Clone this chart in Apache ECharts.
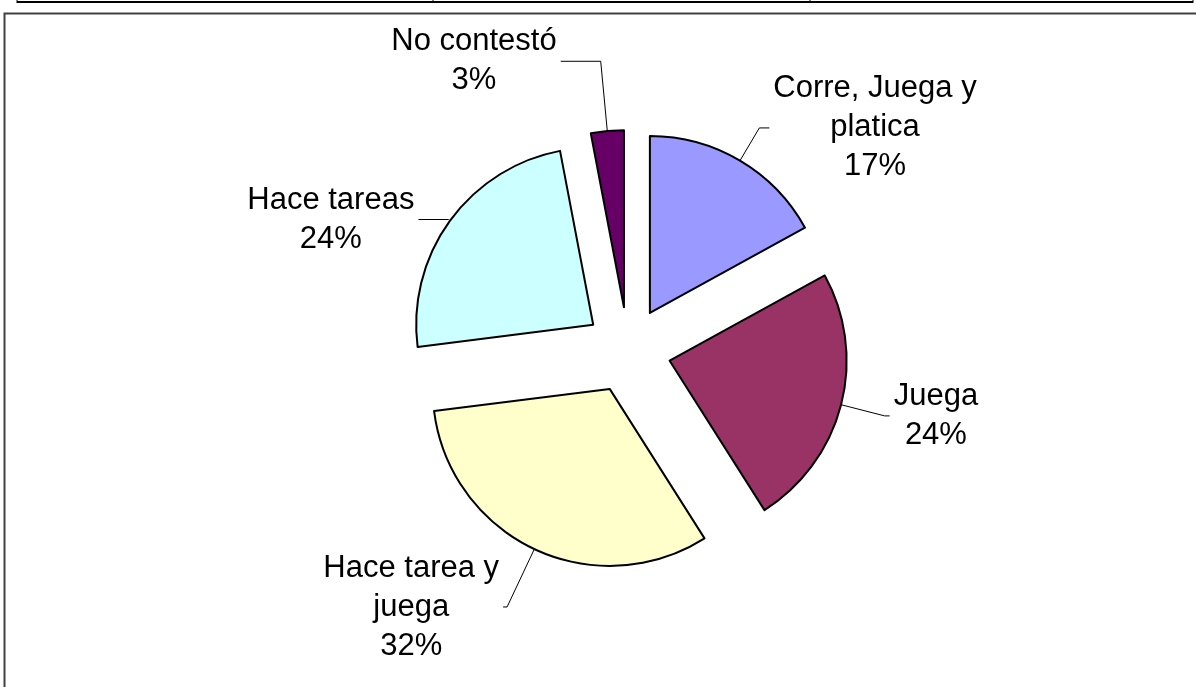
<!DOCTYPE html>
<html>
<head>
<meta charset="utf-8">
<script src="https://cdn.jsdelivr.net/npm/echarts@6/dist/echarts.min.js"></script>
<style>
  html, body { margin: 0; padding: 0; background: #fff; }
  #chart { width: 1196px; height: 687px; }
</style>
</head>
<body>
<div id="chart"></div>
<script>
// slices, clockwise from 12 o'clock
var categories = ['Corre, Juega y\nplatica', 'Juega', 'Hace tarea y\njuega', 'Hace tareas', 'No contestó'];
var values = [17, 24, 32, 24, 3];
var colors = ['#9999FF', '#993366', '#FFFFCC', '#CCFFFF', '#660066'];
// leader line lengths per slice [radial, horizontal]
var leaderLens = [[38, 10], [45, 5], [64, 4], [2, 30], [70, 40]];

var chart = echarts.init(document.getElementById('chart'), null, { renderer: 'canvas' });

var pieData = categories.map(function (name, i) {
    return {
        name: name,
        value: values[i],
        selected: true,
        itemStyle: { color: colors[i] },
        labelLine: { length: leaderLens[i][0], length2: leaderLens[i][1] }
    };
});

var option = {
    backgroundColor: '#ffffff',
    animation: false,
    graphic: [
        // chart frame
        { type: 'rect', shape: { x: 4.5, y: 13.5, width: 1200, height: 700 },
          style: { fill: null, stroke: '#404040', lineWidth: 2 }, silent: true },
        // bit of the table above
        { type: 'line', shape: { x1: 17, y1: 2, x2: 1193, y2: 2 },
          style: { stroke: '#000', lineWidth: 2 }, silent: true },
        { type: 'line', shape: { x1: 17, y1: 0, x2: 17, y2: 3 }, style: { stroke: '#000', lineWidth: 1 }, silent: true },
        { type: 'line', shape: { x1: 433, y1: 0, x2: 433, y2: 3 }, style: { stroke: '#000', lineWidth: 1 }, silent: true },
        { type: 'line', shape: { x1: 810, y1: 0, x2: 810, y2: 3 }, style: { stroke: '#000', lineWidth: 1 }, silent: true },
        { type: 'line', shape: { x1: 1193, y1: 0, x2: 1193, y2: 3 }, style: { stroke: '#000', lineWidth: 1 }, silent: true }
    ],
    series: [{
        type: 'pie',
        center: [628, 350],
        radius: 177,
        startAngle: 90,
        clockwise: true,
        selectedMode: 'multiple',
        selectedOffset: 43,
        avoidLabelOverlap: false,
        percentPrecision: 0,
        itemStyle: { borderColor: '#000', borderWidth: 2 },
        emphasis: { disabled: true },
        select: { disabled: false, itemStyle: { borderColor: '#000', borderWidth: 2 } },
        label: {
            show: true,
            position: 'outside',
            distanceToLabelLine: 4,
            formatter: function (p) {
                return '{t|' + p.name + '\n' + p.percent + '%}';
            },
            rich: {
                t: {
                    align: 'center',
                    fontFamily: '"Liberation Sans", Arial, sans-serif',
                    fontSize: 31,
                    lineHeight: 39,
                    color: '#000'
                }
            }
        },
        labelLine: {
            show: true,
            lineStyle: { color: '#000', width: 1 }
        },
        data: pieData
    }]
};

chart.setOption(option);
</script>
</body>
</html>
